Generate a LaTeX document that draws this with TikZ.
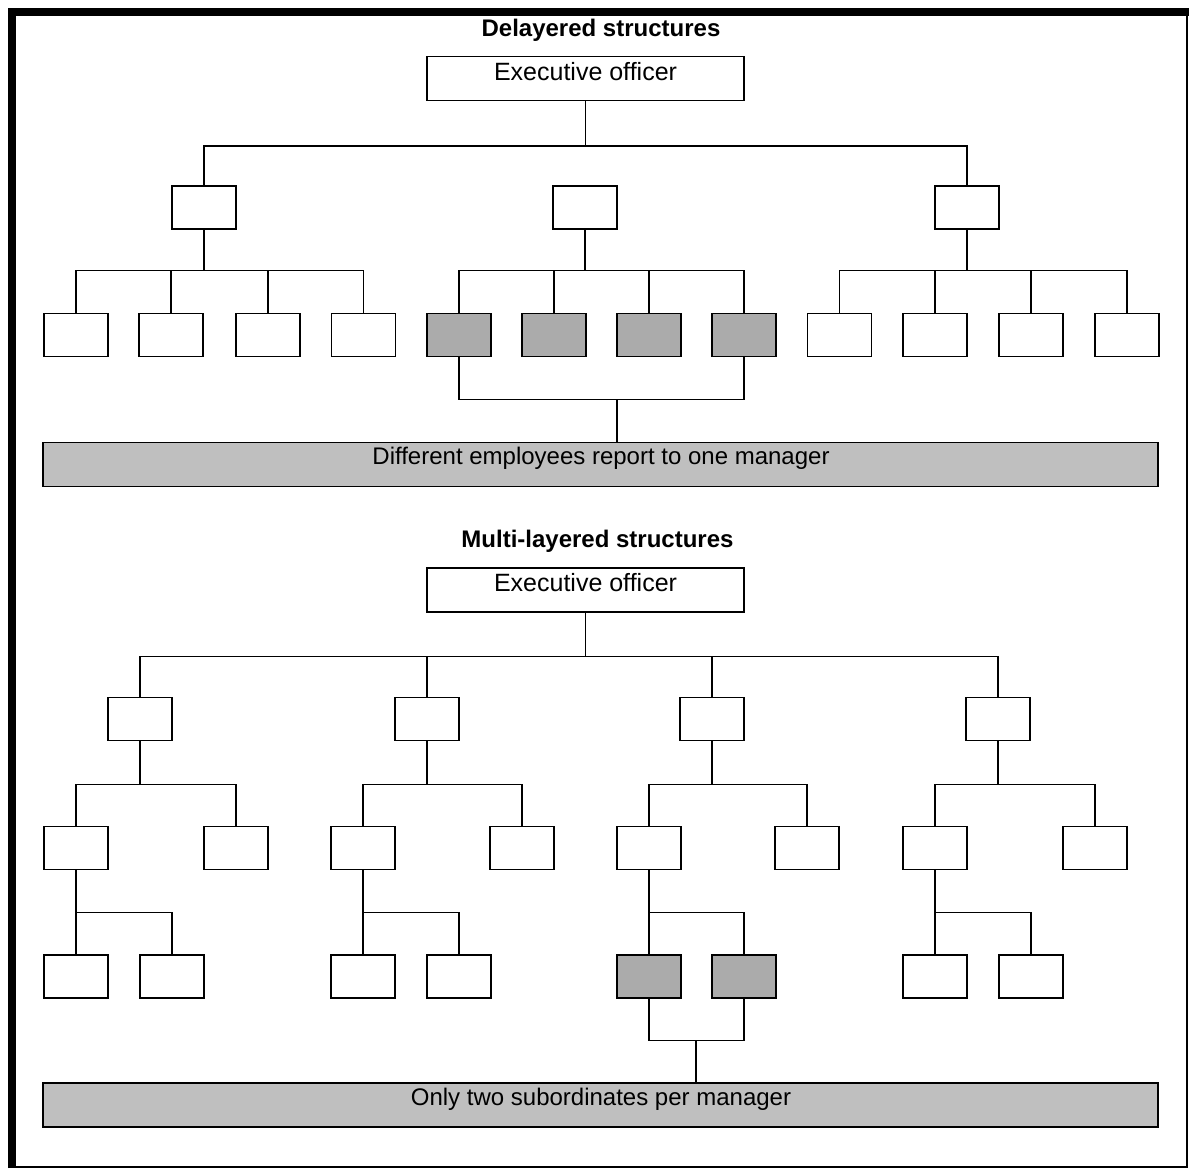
\documentclass[tikz,border=0pt]{standalone}
\usepackage{fontspec}
\setmainfont{Liberation Sans}
\begin{document}
\begin{tikzpicture}[x=1pt,y=-1pt,
  box/.style={draw,line width=1.3pt,inner sep=0pt,minimum width=64pt,minimum height=43pt},
  shaded/.style={box,fill=black!33},
  execbox/.style={box,minimum width=317pt,minimum height=44pt},
  banner/.style={draw,line width=1.3pt,fill=black!25,inner sep=0pt,minimum width=1115pt,minimum height=44pt},
  title/.style={font=\fontsize{24}{28}\selectfont\bfseries,inner sep=0pt},
  txt/.style={font=\fontsize{25}{29}\selectfont,inner sep=0pt},
  bantxt/.style={font=\fontsize{24}{28}\selectfont,inner sep=0pt},
  link/.style={line width=1.3pt}]
\useasboundingbox (0,0) rectangle (1190,1169);
% outer frame: heavy top and left edges, light right and bottom edges
\draw[line width=2.5pt] (12,1167) -- (1187,1167) -- (1187,12);
\draw[line width=7.5pt] (12,1168) -- (12,12) -- (1189,12);

% ---------------- Delayered structures ----------------
\node[title] (tA) at (601,30) {Delayered structures};
\node[execbox] (ceoA) at (585.5,78.5) {};
\node[txt] (ceoAt) at (585.5,72) {Executive officer};

\node[box] (a1) at (204,207.5) {};
\node[box] (a2) at (585,207.5) {};
\node[box] (a3) at (967,207.5) {};
% the centre manager sits under the bar without a link of its own
\draw[link] (ceoA.south) -- ++(0,45) coordinate (hA);
\draw[link] (a1.north) |- (hA) -| (a3.north);

\node[box] (a11) at (76,335) {};
\node[box] (a12) at (171,335) {};
\node[box] (a13) at (268,335) {};
\node[box] (a14) at (363.5,335) {};
\node[shaded] (a21) at (459,335) {};
\node[shaded] (a22) at (554,335) {};
\node[shaded] (a23) at (649,335) {};
\node[shaded] (a24) at (744,335) {};
\node[box] (a31) at (839.5,335) {};
\node[box] (a32) at (935,335) {};
\node[box] (a33) at (1031,335) {};
\node[box] (a34) at (1127,335) {};
\foreach \p in {1,2,3}
  \foreach \k in {1,2,3,4}
    \draw[link] (a\p.south) -- ++(0,41) -| (a\p\k.north);

\node[banner] (banA) at (600.5,464.5) {};
\node[bantxt] (banAt) at (601,458) {Different employees report to one manager};
\coordinate (jA) at (617,399);
\draw[link] (a21.south) -- ++(0,42) -| (a24.south);
\draw[link] (jA) -- (banA.north -| jA);

% ---------------- Multi-layered structures ----------------
\node[title] (tB) at (597.5,541) {Multi-layered structures};
\node[execbox] (ceoB) at (585.5,590) {};
\node[txt] (ceoBt) at (585.5,583) {Executive officer};

\node[box] (b1) at (140,719) {};
\node[box] (b2) at (427,719) {};
\node[box] (b3) at (712,719) {};
\node[box] (b4) at (998,719) {};
\foreach \c in {b1,b2,b3,b4} \draw[link] (ceoB.south) -- ++(0,44) -| (\c.north);

% second tier: left child (L) and right child (R) of each manager
\node[box] (b1L) at (76,848) {};   \node[box] (b1R) at (236,848) {};
\node[box] (b2L) at (363,848) {};  \node[box] (b2R) at (522,848) {};
\node[box] (b3L) at (649,848) {};  \node[box] (b3R) at (807,848) {};
\node[box] (b4L) at (935,848) {};  \node[box] (b4R) at (1095,848) {};
\foreach \p in {1,2,3,4}
  \foreach \s in {L,R}
    \draw[link] (b\p.south) -- ++(0,43) -| (b\p\s.north);

% third tier under each left child
\node[box] (b1La) at (76,976.5) {};   \node[box] (b1Lb) at (172,976.5) {};
\node[box] (b2La) at (363,976.5) {};  \node[box] (b2Lb) at (459,976.5) {};
\node[shaded] (b3La) at (649,976.5) {}; \node[shaded] (b3Lb) at (744,976.5) {};
\node[box] (b4La) at (935,976.5) {};  \node[box] (b4Lb) at (1031,976.5) {};
\foreach \p in {1,2,3,4}
  \foreach \s in {a,b}
    \draw[link] (b\p L.south) -- ++(0,42) -| (b\p L\s.north);

\node[banner] (banB) at (600.5,1105) {};
\node[bantxt] (banBt) at (601,1099) {Only two subordinates per manager};
\coordinate (jB) at (696,1041);
\draw[link] (b3La.south) -- ++(0,42) -| (b3Lb.south);
\draw[link] (jB) -- (banB.north -| jB);
\end{tikzpicture}
\end{document}
